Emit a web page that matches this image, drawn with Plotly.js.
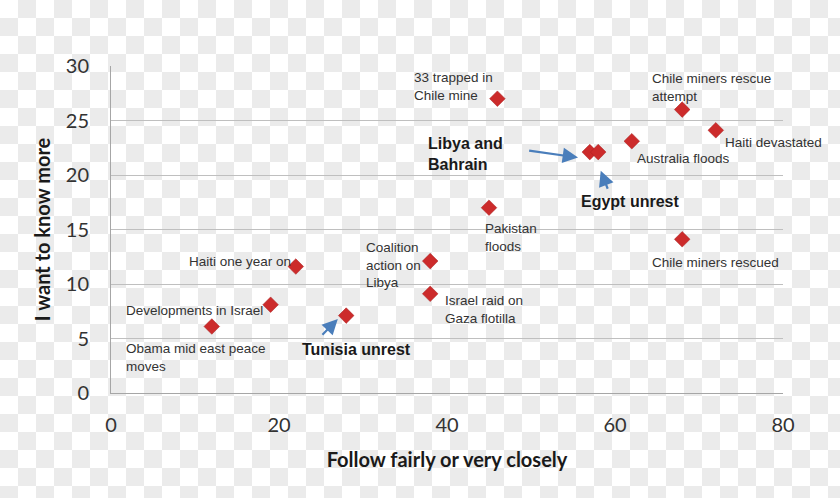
<!DOCTYPE html>
<html>
<head>
<meta charset="utf-8">
<script src="https://cdn.plot.ly/plotly-3.0.1.min.js"></script>
<style>
html,body{margin:0;padding:0;}
body{width:840px;height:498px;background-color:#fff;
background-image:conic-gradient(#ebebeb 25%, #ffffff 0 50%, #ebebeb 0 75%, #ffffff 0);
background-size:36px 36px;}
#chart{width:840px;height:498px;}
</style>
</head>
<body>
<div id="chart"></div>
<script>
// Data
const events = ["33 trapped in Chile mine","Chile miners rescue attempt","Haiti devastated","Australia floods","Libya and Bahrain","Egypt unrest","Pakistan floods","Chile miners rescued","Coalition action on Libya","Haiti one year on","Israel raid on Gaza flotilla","Developments in Israel","Tunisia unrest","Obama mid east peace moves"];
const followClosely = [46, 68, 72, 62, 57, 58, 45, 68, 38, 22, 38, 19, 28, 12];
const wantToKnowMore = [27, 26, 24.1, 23.1, 22.1, 22.1, 17, 14.1, 12.1, 11.6, 9.1, 8.1, 7.1, 6.1];

// Label texts (plain labels)
const labelTexts = ["33 trapped in<br>Chile mine","Chile miners rescue<br>attempt","Haiti devastated","Australia floods","Pakistan<br>floods","Chile miners rescued","Coalition<br>action on<br>Libya","Haiti one year on","Israel raid on<br>Gaza flotilla","Developments in Israel","Obama mid east peace<br>moves"];
const labelX = [35.8, 64.2, 72.9, 62.4, 44.3, 64.2, 30.1, 9.0, 39.5, 1.5, 1.5];
const labelY = [28.1, 28.0, 23.0, 21.5, 14.3, 12.0, 11.7, 12.05, 7.7, 7.6, 3.3];

// Bold callouts
const calloutTexts = ["Libya and<br>Bahrain","Egypt unrest","Tunisia unrest"];
const calloutX = [37.5, 55.7, 22.5];
const calloutY = [21.9, 17.6, 4.0];
// Arrows: tail -> head
const arrowTailX = [49.6, 59.2, 25.0];
const arrowTailY = [22.25, 18.6, 5.2];
const arrowHeadX = [55.6, 58.3, 27.0];
const arrowHeadY = [21.6, 20.4, 6.8];

const annotations = [];
labelTexts.forEach((t,i)=>{
  annotations.push({x:labelX[i], y:labelY[i], xref:'x', yref:'y', text:t, showarrow:false,
    xanchor:'left', yanchor:'middle', align:'left',
    font:{family:'Liberation Sans, Arial, sans-serif', size:13.5, color:'#333333'}});
});
calloutTexts.forEach((t,i)=>{
  annotations.push({x:calloutX[i], y:calloutY[i], xref:'x', yref:'y', text:'<b>'+t+'</b>', showarrow:false,
    xanchor:'left', yanchor:'middle', align:'left',
    font:{family:'Liberation Sans, Arial, sans-serif', size:16, color:'#1a1a1a'}});
  annotations.push({x:arrowHeadX[i], y:arrowHeadY[i], ax:arrowTailX[i], ay:arrowTailY[i],
    xref:'x', yref:'y', axref:'x', ayref:'y', text:'', showarrow:true,
    arrowhead:2, arrowsize:1.4, arrowwidth:2.2, arrowcolor:'#4a7ebb', standoff:0});
});

const trace = {
  type:'scatter', mode:'markers', x:followClosely, y:wantToKnowMore, text:events,
  marker:{symbol:'diamond', size:12, color:'#cc2b2b', line:{color:'#a61e1e', width:0.5}},
  cliponaxis:false, hoverinfo:'text'
};

const layout = {
  width:840, height:498,
  margin:{l:111, r:57, t:66, b:105},
  paper_bgcolor:'rgba(0,0,0,0)', plot_bgcolor:'rgba(0,0,0,0)',
  showlegend:false,
  xaxis:{range:[0,80], dtick:20, tick0:0, showgrid:false, zeroline:false,
    showline:true, linecolor:'#a6a6a6', linewidth:1, ticks:'', ticklen:0,
    ticklabelstandoff:14,
    tickfont:{family:'Lato, Open Sans, sans-serif', size:20, color:'#333333'},
    title:{text:'<b>Follow fairly or very closely</b>', standoff:17,
      font:{family:'Lato, Open Sans, sans-serif', size:20, color:'#1a1a1a'}}},
  yaxis:{range:[0,30], dtick:5, tick0:0, showgrid:true, gridcolor:'#bfbfbf', gridwidth:1,
    zeroline:false, showline:true, linecolor:'#a6a6a6', linewidth:1, ticks:'',
    ticklabelstandoff:17,
    tickfont:{family:'Lato, Open Sans, sans-serif', size:20, color:'#333333'},
    title:{text:'<b>I want to know more</b>', standoff:9,
      font:{family:'Lato, Open Sans, sans-serif', size:20, color:'#1a1a1a'}}},
  annotations:annotations
};

Plotly.newPlot('chart',[trace],layout,{displayModeBar:false, staticPlot:true});
</script>
</body>
</html>
